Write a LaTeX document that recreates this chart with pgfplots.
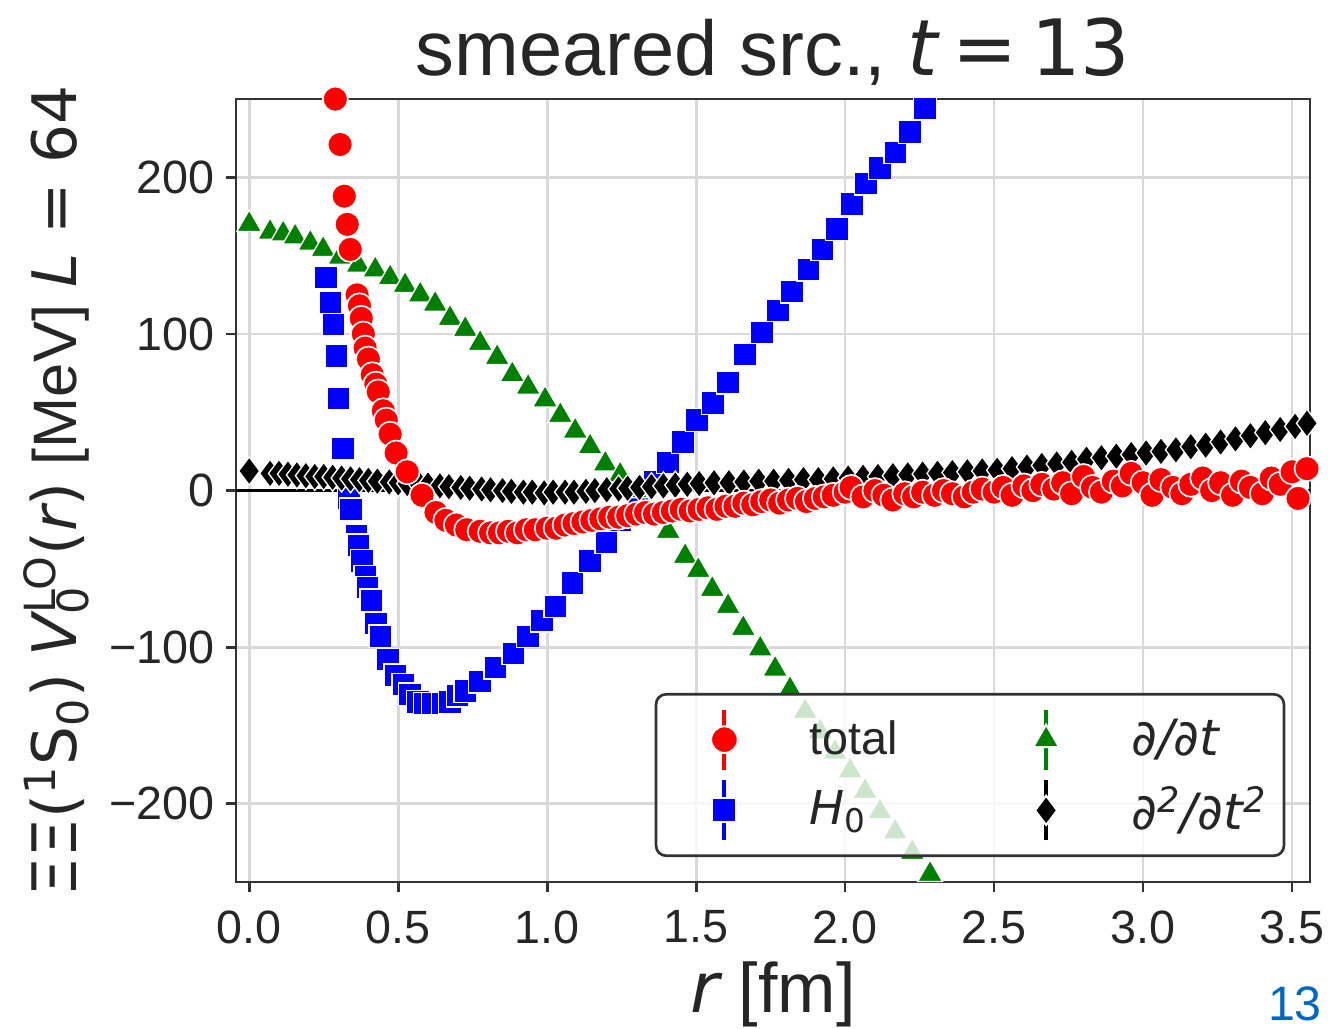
\documentclass[border=0pt]{standalone}
\usepackage{pgfplots}
\pgfplotsset{compat=1.18}
\usepackage{fontspec}
\setmainfont{Liberation Sans}
\newfontfamily\dv{DejaVu Sans}
\newcommand{\dvi}[1]{{\dv\itshape #1}}
\definecolor{mgreen}{rgb}{0,0.5,0}
\definecolor{pgblue}{rgb}{0.0,0.4,0.78}
\begin{document}
\begin{tikzpicture}
\begin{axis}[
  at={(0,0)}, anchor=south west,
  scale only axis, width=322pt, height=234.8pt,
  xmin=-0.044, xmax=3.56, ymin=-250, ymax=250,
  xtick={0,0.5,1,1.5,2,2.5,3,3.5}, ytick={-200,-100,0,100,200},
  xticklabels={0.0,0.5,1.0,1.5,2.0,2.5,3.0,3.5},
  yticklabels={−200,−100,0,100,200},
  /pgf/number format/assume math mode=true,
  tick label style={font=\fontsize{14}{16}\selectfont, text=black!85},
  xticklabel style={yshift=-2pt},
  tick align=outside, xtick pos=left, ytick pos=left,
  major tick length=3pt,
  tick style={black!80, line width=0.8pt},
  axis line style={black!80, line width=0.8pt},
  grid=major, major grid style={black!15, line width=0.8pt},
  every axis title shift=0pt,
  title={\fontsize{23.3}{26}\selectfont smeared src., \dvi{t}\kern0.18em{\dv =}\kern0.18em{\dv 13}},
  title style={at={(axis description cs:0.5,1.0307)}, anchor=base, text=black!85},
  xlabel={\fontsize{21}{24}\selectfont\dvi{r} [fm]},
  xlabel style={at={(axis description cs:0.5,-0.166)}, anchor=base, text=black!85},
  ylabel={\fontsize{18.4}{22}\selectfont{\dv ΞΞ(\textsuperscript{1}S\textsubscript{0})} \dvi{V}\textsubscript{\dv 0}\kern-0.45em\textsuperscript{\dv LO}{\dv(}\dvi{r}{\dv)} [MeV] \dvi{L}{\dv\ =\ 64}},
  ylabel style={at={(axis description cs:-0.149,0.5)}, anchor=base, text=black!85},
  legend columns=2,
  legend style={at={(axis description cs:0.977,0.032)}, anchor=south east,
    fill=white, fill opacity=0.8, draw opacity=1, text opacity=1,
    draw=black!80, line width=0.8pt, rounded corners=3pt,
    font=\fontsize{14}{16}\selectfont, text=black!85,
    /tikz/every even column/.append style={column sep=25pt},
    row sep=2pt, inner xsep=3pt, inner ysep=4pt},
  legend cell align=left,
]
% zero line
\addplot[black, line width=1pt, forget plot] coordinates {(-0.1,0) (3.6,0)};

% H0 (blue squares)
\addplot[only marks, mark=square*, mark size=3.4pt, mark options={fill=blue, draw=white, line width=0.4pt}, forget plot] table {
x y
0.190 300
0.210 252
0.258 136
0.272 120
0.282 106
0.292 86
0.299 59
0.315 27
0.335 -5
0.342 -12
0.360 -29
0.366 -35
0.379 -45
0.390 -55
0.396 -62
0.410 -70
0.426 -85
0.440 -93
0.466 -108
0.490 -118
0.517 -124
0.540 -130
0.567 -135
0.590 -136
0.617 -136
0.650 -136
0.674 -135
0.700 -131
0.725 -128
0.775 -122
0.826 -113
0.886 -104
0.936 -93
0.983 -83
1.027 -74
1.084 -59
1.144 -45
1.198 -33
1.245 -19
1.305 -6
1.362 6
1.406 18
1.456 31
1.503 45
1.557 56
1.607 69
1.664 87
1.721 101
1.775 115
1.822 127
1.876 141
1.923 154
1.973 167
2.023 183
2.070 196
2.117 206
2.168 216
2.218 229
2.268 244
2.320 256
2.370 268
};

% d/dt (green triangles)
\addplot[only marks, mark=triangle*, mark size=4.3pt, mark options={fill=mgreen, draw=white, line width=0.4pt}, forget plot] table {
x y
0.000 170
0.070 165
0.114 164
0.154 162
0.205 158
0.248 154
0.305 149
0.366 144
0.423 141
0.473 136
0.523 131
0.574 125
0.624 119
0.674 110
0.725 103
0.775 94
0.832 85
0.883 74
0.936 66
0.993 58
1.044 48
1.094 38
1.144 28
1.195 17
1.245 10
1.296 0
1.346 -13
1.406 -26
1.463 -42
1.507 -51
1.554 -63
1.607 -74
1.658 -88
1.715 -101
1.765 -114
1.815 -127
1.866 -141
1.916 -154
1.966 -167
2.017 -179
2.067 -192
2.117 -205
2.168 -218
2.225 -231
2.285 -245
2.336 -258
};

% d2/dt2 (black diamonds)
\addplot[only marks, mark=diamond*, mark size=4.2pt, mark options={fill=black, draw=white, line width=0.4pt}, forget plot] table {
x y
0.00 12.5
0.07 11
0.10 11
0.13 10.5
0.16 10
0.19 9.5
0.22 9
0.25 9
0.28 8.5
0.31 8
0.34 7.5
0.37 7
0.40 6.5
0.43 6
0.47 5.5
0.50 5
0.53 4.5
0.57 4
0.60 3.5
0.64 3
0.67 2.5
0.71 2
0.74 1.5
0.78 1
0.81 0.5
0.85 0
0.88 -0.5
0.92 -1
0.95 -1
0.99 -1.5
1.02 -1
1.06 -1
1.09 -1
1.13 -0.5
1.16 0
1.20 0.5
1.24 1
1.27 1.5
1.31 2
1.35 2.5
1.39 3
1.43 3.5
1.47 4
1.51 4.5
1.56 5
1.61 5
1.66 5.5
1.71 6
1.76 6
1.81 6.5
1.86 7
1.91 7
1.96 7.5
2.01 8
2.06 8.5
2.11 9
2.16 9.5
2.21 10
2.26 10.5
2.31 11
2.36 11.5
2.41 12
2.46 12.5
2.51 13
2.56 14
2.61 15
2.66 16
2.71 17
2.76 18
2.81 20
2.86 21
2.91 22
2.96 23
3.01 24
3.06 25
3.11 26
3.16 28
3.21 29
3.26 31
3.31 33
3.36 35
3.41 37
3.46 39
3.51 41
3.55 43
};

% total (red circles)
\addplot[only marks, mark=*, mark size=3.75pt, mark options={fill=red, draw=white, line width=0.5pt}, forget plot] table {
x y
0.250 330
0.289 250
0.305 221
0.319 188
0.329 170
0.339 154
0.362 125
0.370 118
0.376 110
0.383 100
0.389 91
0.400 84
0.413 74
0.425 68
0.433 63
0.450 51
0.460 45
0.473 36
0.493 24
0.530 12
0.580 -3
0.627 -14
0.660 -19
0.695 -22
0.730 -25
0.775 -26
0.810 -27
0.840 -27
0.870 -26
0.900 -27
0.930 -25
0.960 -25
1.000 -24
1.030 -24
1.060 -22
1.090 -21
1.120 -20
1.150 -19
1.180 -18
1.210 -17
1.240 -17
1.270 -16
1.300 -15
1.330 -14
1.360 -15
1.390 -14
1.420 -13
1.450 -12
1.480 -13
1.510 -12
1.540 -11
1.570 -12
1.600 -10
1.630 -10
1.660 -8
1.690 -9
1.720 -7
1.750 -6
1.780 -8
1.810 -6
1.840 -5
1.870 -7
1.900 -5
1.930 -4
1.960 -3
2.000 -1
2.020 2
2.060 -4
2.100 0
2.130 -3
2.160 -6
2.200 -2
2.230 -4
2.260 -1
2.300 -3
2.330 0
2.360 -2
2.400 -4
2.430 -1
2.460 1
2.500 -1
2.530 2
2.560 -3
2.600 3
2.630 0
2.660 4
2.700 1
2.730 5
2.760 -2
2.800 9
2.830 2
2.860 -1
2.900 6
2.930 3
2.960 11
3.000 5
3.030 -3
3.060 7
3.100 2
3.130 -2
3.160 4
3.200 8
3.230 0
3.260 5
3.300 -3
3.330 6
3.360 2
3.400 -2
3.430 8
3.460 4
3.500 12
3.520 -5
3.550 14
};

% legend entries (row-wise: total, d/dt, H0, d2/dt2)
\addlegendimage{legend image code/.code={
  \path[draw=none, fill=none] (0pt,-9pt) rectangle (41pt,9pt);
  \draw[red, line width=1.2pt, opacity=1, rounded corners=0pt] (17.5pt,-9pt) -- (17.5pt,9pt);
  \draw[only marks, mark=*, mark size=4pt, mark options={fill=red, draw=white, line width=0.6pt, fill opacity=1, draw opacity=1}] plot coordinates {(17.5pt,0pt)};
}}
\addlegendentry{total}
\addlegendimage{legend image code/.code={
  \path[draw=none, fill=none] (0pt,-9pt) rectangle (41pt,9pt);
  \draw[mgreen, line width=1.2pt, opacity=1, rounded corners=0pt] (17.5pt,-9pt) -- (17.5pt,9pt);
  \draw[only marks, mark=triangle*, mark size=4.5pt, mark options={fill=mgreen, draw=white, line width=0.6pt, fill opacity=1, draw opacity=1}] plot coordinates {(17.5pt,0pt)};
}}
\addlegendentry{\fontsize{15}{17}\selectfont\dvi{∂/∂t}}
\addlegendimage{legend image code/.code={
  \path[draw=none, fill=none] (0pt,-9pt) rectangle (41pt,9pt);
  \draw[blue, line width=1.2pt, opacity=1, rounded corners=0pt] (17.5pt,-9pt) -- (17.5pt,9pt);
  \draw[only marks, mark=square*, mark size=3.6pt, mark options={fill=blue, draw=white, line width=0.6pt, fill opacity=1, draw opacity=1}] plot coordinates {(17.5pt,0pt)};
}}
\addlegendentry{\dvi{H}\textsubscript{\dv 0}}
\addlegendimage{legend image code/.code={
  \path[draw=none, fill=none] (0pt,-9pt) rectangle (41pt,9pt);
  \draw[black, line width=1.2pt, opacity=1, rounded corners=0pt] (17.5pt,-9pt) -- (17.5pt,9pt);
  \draw[only marks, mark=diamond*, mark size=4.4pt, mark options={fill=black, draw=white, line width=0.6pt, fill opacity=1, draw opacity=1}] plot coordinates {(17.5pt,0pt)};
}}
\addlegendentry{\fontsize{15}{17}\selectfont\dvi{∂\textsuperscript{2}/∂t\textsuperscript{2}}}
\end{axis}
\node[anchor=base, inner sep=0pt, text=pgblue, font=\fontsize{14.5}{17}\selectfont] at (317.5pt,-41.5pt) {13};
\pgfresetboundingbox
\path[use as bounding box] (-70.8pt,-44pt) rectangle (329.2pt,264.5pt);
\end{tikzpicture}
\end{document}
